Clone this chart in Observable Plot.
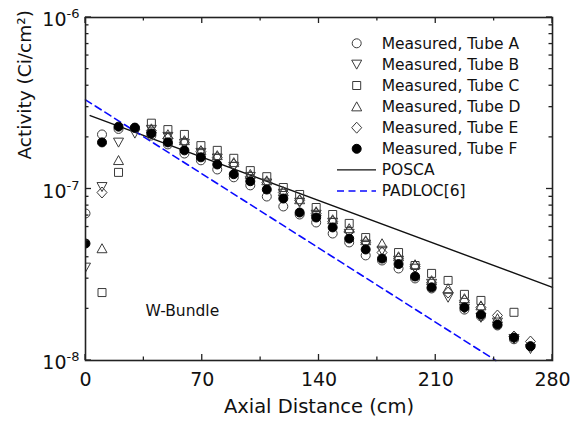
<!DOCTYPE html>
<html><head><meta charset="utf-8">
<script src="https://cdn.jsdelivr.net/npm/d3@7"></script>
<script src="https://cdn.jsdelivr.net/npm/@observablehq/plot@0.6"></script>
<style>body{margin:0;background:#fff} #chart{width:571px;height:428px}</style>
</head><body><div id="chart"></div>
<script>
// Axial positions (cm)
const positions = [0, 9.9, 19.8, 29.6, 39.5, 49.4, 59.3, 69.2, 79.0, 88.9, 98.8, 108.7, 118.6, 128.4, 138.3, 148.2, 158.1, 168.0, 177.8, 187.7, 197.6, 207.5, 217.4, 227.2, 237.1, 247.0, 256.9, 266.8];
// Measured activity (Ci/cm^2)
const tubeA = [7.20e-8, 2.08e-7, 2.24e-7, 2.27e-7, 2.05e-7, 1.82e-7, 1.61e-7, 1.47e-7, 1.30e-7, 1.17e-7, 1.05e-7, 9.04e-8, 7.91e-8, 7.10e-8, 6.38e-8, 5.50e-8, 4.88e-8, 4.10e-8, 3.83e-8, 3.44e-8, 3.01e-8, 2.63e-8, null, 1.98e-8, 1.81e-8, 1.60e-8, 1.33e-8, 1.21e-8];
const tubeB = [3.49e-8, 1.03e-7, 1.87e-7, 2.11e-7, 2.22e-7, 2.02e-7, 1.84e-7, 1.63e-7, 1.51e-7, 1.35e-7, 1.18e-7, 1.08e-7, 9.41e-8, 8.34e-8, 7.10e-8, 6.38e-8, 5.50e-8, 4.75e-8, 4.38e-8, 3.83e-8, 3.44e-8, 2.81e-8, 2.33e-8, 2.01e-8, 1.78e-8, 1.67e-8, 1.34e-8, 1.17e-8];
const tubeC = [null, 2.49e-8, 1.25e-7, null, 2.42e-7, 2.22e-7, 2.08e-7, 1.79e-7, 1.68e-7, 1.51e-7, 1.28e-7, 1.18e-7, 1.02e-7, 9.29e-8, 7.80e-8, 7.10e-8, 6.30e-8, 5.21e-8, null, 4.26e-8, 3.58e-8, 3.22e-8, 2.93e-8, 2.43e-8, 2.24e-8, null, 1.91e-8, null];
const tubeD = [null, 4.50e-8, 1.47e-7, null, 2.25e-7, 2.08e-7, 1.92e-7, 1.68e-7, 1.57e-7, 1.43e-7, 1.22e-7, 1.12e-7, 9.67e-8, 8.69e-8, 7.39e-8, 6.64e-8, 5.89e-8, 5.01e-8, 4.81e-8, 4.04e-8, 3.63e-8, 2.93e-8, 2.63e-8, 2.30e-8, 2.09e-8, 1.76e-8, null, null];
const tubeE = [null, 9.54e-8, null, null, 2.19e-7, 1.97e-7, 1.87e-7, 1.65e-7, 1.53e-7, 1.39e-7, 1.18e-7, 1.09e-7, 9.54e-8, 8.57e-8, 7.20e-8, 6.47e-8, 5.65e-8, 4.88e-8, 4.26e-8, 3.93e-8, 3.53e-8, 2.85e-8, 2.49e-8, 2.24e-8, 2.04e-8, 1.83e-8, 1.38e-8, 1.29e-8];
const tubeF = [4.81e-8, 1.87e-7, 2.31e-7, 2.28e-7, 2.11e-7, 1.87e-7, 1.68e-7, 1.53e-7, 1.39e-7, 1.22e-7, 1.11e-7, 9.93e-8, 8.80e-8, 7.29e-8, 6.82e-8, 5.97e-8, 5.14e-8, 4.44e-8, 3.93e-8, 3.65e-8, 3.09e-8, 2.67e-8, null, 2.04e-8, 1.85e-8, 1.62e-8, 1.36e-8, 1.21e-8];
// Model lines
const poscaX = [2.8, 280];
const poscaV = [2.68e-7, 2.67e-8];
const padlocX = [0, 246];
const padlocV = [3.31e-7, 1.0e-8];
// Ticks and labels
const xMajorTicks = [0, 70, 140, 210, 280];
const xMinorTicks = [35, 105, 175, 245];
const yMajorTicks = [1e-8, 1e-7, 1e-6];
const yMinorTicks = [2e-8, 3e-8, 4e-8, 5e-8, 6e-8, 7e-8, 8e-8, 9e-8, 2e-7, 3e-7, 4e-7, 5e-7, 6e-7, 7e-7, 8e-7, 9e-7];
const seriesNames = ["Measured, Tube A", "Measured, Tube B", "Measured, Tube C", "Measured, Tube D", "Measured, Tube E", "Measured, Tube F"];
const lineNames = ["POSCA", "PADLOC[6]"];
const xTitle = "Axial Distance (cm)";
const yTitle = "Activity (Ci/cm²)";
const annotation = "W-Bundle";

// custom symbols
const R = s => Math.sqrt(s / Math.PI);
const symCircle = {draw(c, s) { const r = R(s) * 0.9; c.moveTo(r, 0); c.arc(0, 0, r, 0, 2 * Math.PI); }};
const symSquare = {draw(c, s) { const h = R(s) * 0.8; c.rect(-h, -h, 2 * h, 2 * h); }};
const symTriUp = {draw(c, s) { const r = R(s); c.moveTo(0, -0.95 * r); c.lineTo(r, 0.85 * r); c.lineTo(-r, 0.85 * r); c.closePath(); }};
const symTriDown = {draw(c, s) { const r = R(s); c.moveTo(0, 0.95 * r); c.lineTo(r, -0.85 * r); c.lineTo(-r, -0.85 * r); c.closePath(); }};
const symDiamond = {draw(c, s) { const r = R(s); c.moveTo(0, -1.1 * r); c.lineTo(r, 0); c.lineTo(0, 1.1 * r); c.lineTo(-r, 0); c.closePath(); }};

const seriesValues = [tubeA, tubeB, tubeC, tubeD, tubeE, tubeF];
const seriesSymbols = [symCircle, symTriDown, symSquare, symTriUp, symDiamond, symCircle];
const seriesFill = ["none", "none", "none", "none", "none", "#000"];
const seriesStroke = ["#3a3a3a", "#3a3a3a", "#3a3a3a", "#3a3a3a", "#3a3a3a", "#000"];

const rowsOf = vals => positions.map((x, i) => ({x, v: vals[i]})).filter(d => d.v != null);
const poscaRows = poscaX.map((x, i) => ({x, v: poscaV[i]}));
const padlocRows = padlocX.map((x, i) => ({x, v: padlocV[i]}));

const dotMarks = seriesValues.map((vals, k) => Plot.dot(rowsOf(vals), {
  x: "x", y: "v", r: 5, symbol: seriesSymbols[k], fill: seriesFill[k], stroke: seriesStroke[k], strokeWidth: 1, clip: true
}));

const plot = Plot.plot({
  width: 571, height: 428,
  marginLeft: 85, marginRight: 19, marginTop: 17, marginBottom: 68,
  x: {domain: [0, 280], label: null},
  y: {type: "log", domain: [1e-8, 1e-6], label: null},
  style: {fontFamily: "DejaVu Sans", fontSize: "19px", color: "#111", background: "#fff"},
  marks: [
    Plot.line(poscaRows, {x: "x", y: "v", stroke: "#111", strokeWidth: 1.4}),
    Plot.line(padlocRows, {x: "x", y: "v", stroke: "#0a0aff", strokeWidth: 1.6, strokeDasharray: "7,4.5"}),
    ...dotMarks,
    Plot.frame({stroke: "#222", strokeWidth: 1.6}),
    Plot.axisX({anchor: "bottom", ticks: xMajorTicks, tickSize: 0, tickPadding: 12, fontSize: 19, label: null, tickFormat: d => String(d)}),
    Plot.axisY({anchor: "left", ticks: yMajorTicks, tickSize: 0, tickPadding: 6, dy: 2.5, fontSize: 19, label: null,
      tickFormat: d => "10^" + Math.round(Math.log10(d))}),
    Plot.text([annotation], {text: d => d, frameAnchor: "bottom-left", dx: 60, dy: -45, textAnchor: "start", fontSize: 15.5, fill: "#111"}),
    Plot.text([xTitle], {text: d => d, frameAnchor: "bottom", dy: 52, fontSize: 19.5, fill: "#111"}),
    Plot.text([yTitle], {text: d => d, frameAnchor: "left", dx: -60, dy: -29.5, rotate: -90, fontSize: 18.5, fill: "#111"})
  ]
});
document.getElementById("chart").appendChild(plot);

// inward ticks on all four sides, placed with the plot's own scales
const sx = plot.scale("x"), sy = plot.scale("y");
const fLeft = Math.min(...sx.range), fRight = Math.max(...sx.range);
const fBottom = Math.max(...sy.range), fTop = Math.min(...sy.range);
const tk = d3.select(plot).append("g").attr("stroke", "#222").attr("stroke-width", 1.3);
[[xMajorTicks, 6], [xMinorTicks, 3.5]].forEach(([ticks, len]) => ticks.forEach(t => {
  const px = sx.apply(t);
  tk.append("line").attr("x1", px).attr("x2", px).attr("y1", fBottom).attr("y2", fBottom - len);
  tk.append("line").attr("x1", px).attr("x2", px).attr("y1", fTop).attr("y2", fTop + len);
}));
[[yMajorTicks, 6], [yMinorTicks, 3.5]].forEach(([ticks, len]) => ticks.forEach(t => {
  const py = sy.apply(t);
  tk.append("line").attr("y1", py).attr("y2", py).attr("x1", fLeft).attr("x2", fLeft + len);
  tk.append("line").attr("y1", py).attr("y2", py).attr("x1", fRight).attr("x2", fRight - len);
}));

// superscript exponents on y tick labels
const NS = "http://www.w3.org/2000/svg";
plot.querySelectorAll('[aria-label="y-axis tick label"] text').forEach(t => {
  const parts = t.textContent.split("^");
  if (parts.length !== 2) return;
  t.textContent = parts[0];
  const ts = document.createElementNS(NS, "tspan");
  ts.setAttribute("dy", "-8");
  ts.setAttribute("font-size", "13");
  ts.textContent = parts[1];
  t.appendChild(ts);
});

// legend (inside plot, top right)
const lg = d3.select(plot).append("g").attr("font-family", "DejaVu Sans").attr("font-size", 15.5)
  .attr("fill", "#111").attr("text-anchor", "start");
const legY0 = 43.3, legStep = 21.1, symX = 356.7, txtX = 381.7;
seriesNames.forEach((name, i) => {
  const y = legY0 + i * legStep;
  const p = d3.path();
  seriesSymbols[i].draw(p, Math.PI * 25);
  lg.append("path").attr("d", p.toString()).attr("transform", `translate(${symX},${y})`)
    .attr("fill", seriesFill[i]).attr("stroke", seriesStroke[i]).attr("stroke-width", 1);
  lg.append("text").attr("x", txtX).attr("y", y).attr("dy", "0.35em").text(name);
});
lineNames.forEach((name, j) => {
  const y = legY0 + (6 + j) * legStep;
  lg.append("line").attr("x1", 337).attr("x2", 376).attr("y1", y).attr("y2", y)
    .attr("stroke", j === 0 ? "#111" : "#0a0aff").attr("stroke-width", j === 0 ? 1.4 : 1.6)
    .attr("stroke-dasharray", j === 0 ? null : "7,4.5");
  lg.append("text").attr("x", txtX).attr("y", y).attr("dy", "0.35em").text(name);
});
</script>
</body></html>
